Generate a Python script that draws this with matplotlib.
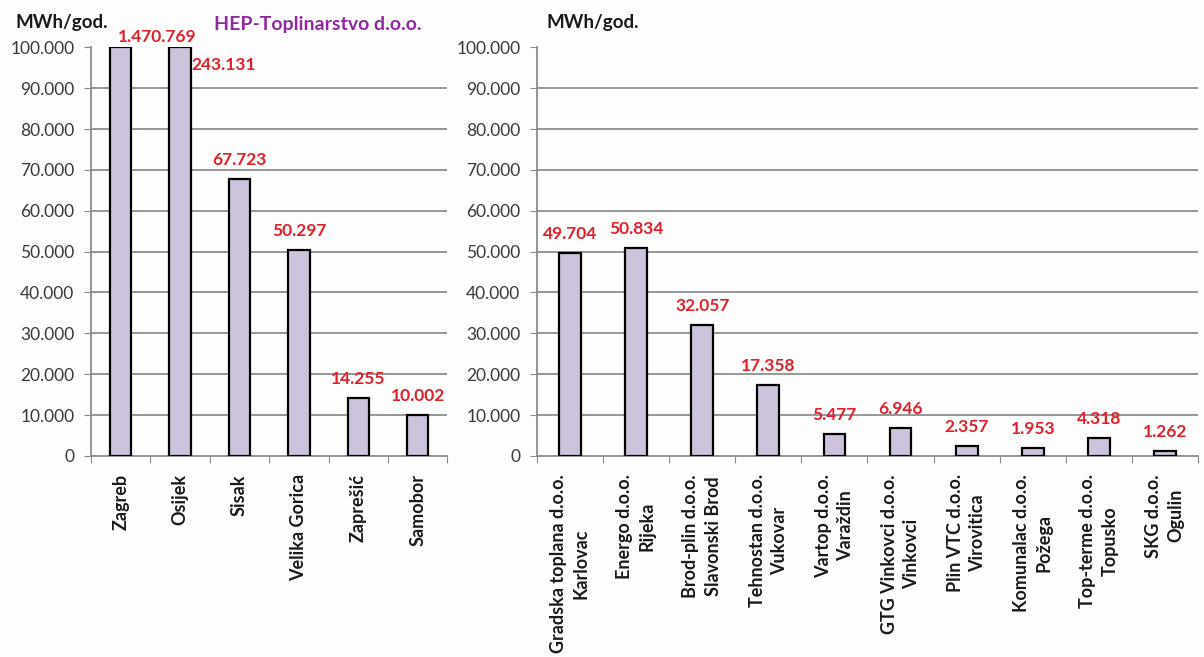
import matplotlib
matplotlib.use("Agg")
import matplotlib.pyplot as plt
import numpy as np

plt.rcParams['font.family'] = ['Lato', 'DejaVu Sans']

left_cats = ["Zagreb", "Osijek", "Sisak", "Velika Gorica", "Zaprešić", "Samobor"]
left_vals = [1470769, 243131, 67723, 50297, 14255, 10002]

right_cats = ["Gradska toplana d.o.o.\nKarlovac", "Energo d.o.o.\nRijeka",
              "Brod-plin d.o.o.\nSlavonski Brod", "Tehnostan d.o.o.\nVukovar",
              "Vartop d.o.o.\nVaraždin", "GTG Vinkovci d.o.o.\nVinkovci",
              "Plin VTC d.o.o.\nVirovitica", "Komunalac d.o.o.\nPožega",
              "Top-terme d.o.o.\nTopusko", "SKG d.o.o.\nOgulin"]
right_vals = [49704, 50834, 32057, 17358, 5477, 6946, 2357, 1953, 4318, 1262]

y_ticks = list(range(0, 100001, 10000))
y_ticklabels = ["0"] + [f"{v//1000}.000" for v in y_ticks[1:]]

def fmt(v):
    return f"{v:,}".replace(",", ".")

BAR = "#cdc3dc"
GRID = "#7a7a7a"
SPINE = "#8a8a8a"
RED = "#e0202a"
TXT = "#3a3a3a"

fig = plt.figure(figsize=(12.04, 6.57), dpi=100)
fig.patch.set_facecolor("#fdfdfd")

def setup(ax, cats, vals, width, linespacing=1.0):
    x = np.arange(len(cats))
    ax.set_facecolor("#fdfdfd")
    ax.bar(x, [min(v, 100000) for v in vals], width=width, color=BAR,
           edgecolor="black", linewidth=1.6, zorder=3)
    ax.set_ylim(0, 100000)
    ax.set_xlim(-0.5, len(cats) - 0.5)
    ax.set_yticks(y_ticks)
    ax.set_yticklabels(y_ticklabels, fontsize=12.5, color=TXT)
    for yv in y_ticks[1:-1]:
        ax.axhline(yv, color=GRID, linewidth=1.1, zorder=1)
    ax.set_xticks(np.arange(-0.5, len(cats)), minor=False)
    ax.set_xticklabels([])
    ax.set_xticks(x, minor=True)
    ax.set_xticklabels(cats, minor=True, rotation=90, fontsize=13,
                       fontweight="bold", color="#1a1a1a", va="top", ha="center",
                       linespacing=linespacing, multialignment="center")
    ax.tick_params(axis="x", which="minor", length=0, pad=13)
    ax.tick_params(axis="x", which="major", length=5, color=SPINE, direction="out")
    ax.tick_params(axis="y", length=5, color=SPINE, direction="out", pad=7)
    for s in ["top", "right"]:
        ax.spines[s].set_visible(False)
    for s in ["left", "bottom"]:
        ax.spines[s].set_color(SPINE)
        ax.spines[s].set_linewidth(1.3)
    return x

# Left axes
axL = fig.add_axes([0.0756, 0.306, 0.296, 0.622])
xL = setup(axL, left_cats, left_vals, 0.36)
for i, v in enumerate(left_vals):
    if i == 0:
        axL.annotate(fmt(v), (xL[i], 100000), xytext=(36, 10), textcoords="offset pixels",
                     ha="center", va="center", color=RED, fontsize=12.5, fontweight="bold")
    elif i == 1:
        axL.annotate(fmt(v), (xL[i], 100000), xytext=(44, -18), textcoords="offset pixels",
                     ha="center", va="center", color=RED, fontsize=12.5, fontweight="bold")
    else:
        axL.annotate(fmt(v), (xL[i], v), xytext=(0, 19), textcoords="offset pixels",
                     ha="center", va="center", color=RED, fontsize=12.5, fontweight="bold")
fig.text(0.0125, 0.966, "MWh/god.", fontsize=13.5, fontweight="bold", color="#1a1a1a",
         ha="left", va="center")
fig.text(0.178, 0.962, "HEP-Toplinarstvo d.o.o.", fontsize=14, fontweight="bold",
         color="#8e2a9e", ha="left", va="center")

# Right axes
axR = fig.add_axes([0.446, 0.306, 0.549, 0.622])
xR = setup(axR, right_cats, right_vals, 0.33, linespacing=1.4)
for i, v in enumerate(right_vals):
    axR.annotate(fmt(v), (xR[i], v), xytext=(0, 19), textcoords="offset pixels",
                 ha="center", va="center", color=RED, fontsize=12.5, fontweight="bold")
fig.text(0.454, 0.966, "MWh/god.", fontsize=13.5, fontweight="bold", color="#1a1a1a",
         ha="left", va="center")

fig.savefig("out.png", dpi=100, facecolor=fig.get_facecolor())
